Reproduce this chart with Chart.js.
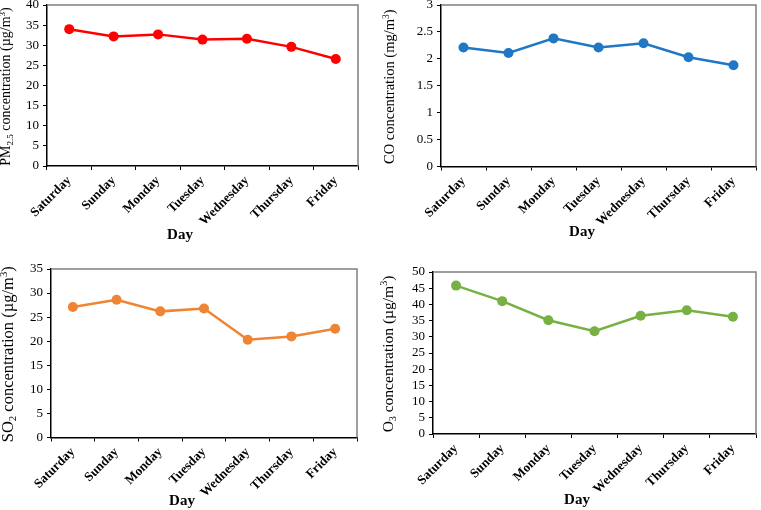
<!DOCTYPE html>
<html>
<head>
<meta charset="utf-8">
<script src="https://cdn.jsdelivr.net/npm/chart.js@4.4.1/dist/chart.umd.min.js"></script>
<style>
  html, body { margin: 0; padding: 0; background: #fff; }
  body { width: 761px; height: 510px; position: relative; overflow: hidden; }
  canvas { position: absolute; }
</style>
</head>
<body>
<canvas id="c1" width="380" height="255" style="left:0px;top:0px;width:380px;height:255px"></canvas>
<canvas id="c2" width="381" height="255" style="left:380px;top:0px;width:381px;height:255px"></canvas>
<canvas id="c3" width="380" height="255" style="left:0px;top:255px;width:380px;height:255px"></canvas>
<canvas id="c4" width="381" height="255" style="left:380px;top:255px;width:381px;height:255px"></canvas>
<script>
// ---------- data ----------
const days = ['Saturday', 'Sunday', 'Monday', 'Tuesday', 'Wednesday', 'Thursday', 'Friday'];
const pm25 = [34.0, 32.2, 32.7, 31.4, 31.6, 29.6, 26.6];
const co   = [2.21, 2.11, 2.38, 2.21, 2.29, 2.03, 1.88];
const so2  = [27.1, 28.6, 26.2, 26.8, 20.3, 21.0, 22.6];
const o3   = [45.8, 41.0, 35.1, 31.7, 36.5, 38.2, 36.2];

const yMax  = [40, 3, 35, 50];
const yStep = [5, 0.5, 5, 5];
const xTitle = 'Day';
// y-axis titles as [text, mode] pieces: n = normal, sub = subscript, sup = superscript
const yTitle1 = [['PM', 'n'], ['2.5', 'sub'], [' concentration (µg/m', 'n'], ['3', 'sup'], [')', 'n']];
const yTitle2 = [['CO concentration (mg/m', 'n'], ['3', 'sup'], [')', 'n']];
const yTitle3 = [['SO', 'n'], ['2', 'sub'], [' concentration (µg/m', 'n'], ['3', 'sup'], [')', 'n']];
const yTitle4 = [['O', 'n'], ['3', 'sub'], [' concentration (µg/m', 'n'], ['3', 'sup'], [')', 'n']];

const seriesColors = ['#ff0000', '#1f77c6', '#ef8434', '#77b043'];

// ---------- layout/style (not data) ----------
const FONT = '"Liberation Serif", "Times New Roman", serif';
const panels = [
  { id: 'c1', values: pm25, yt: yTitle1, ytSize: 14,   ytX: 6,  left: 47, top: 5,  right: 22, xh: 89,  dayX: 180, dayY: 235 },
  { id: 'c2', values: co,   yt: yTitle2, ytSize: 14.5, ytX: 10, left: 61, top: 3,  right: 3,  xh: 88.5, dayX: 202, dayY: 232 },
  { id: 'c3', values: so2,  yt: yTitle3, ytSize: 16.5, ytX: 8,  left: 51, top: 14, right: 23, xh: 72.5, dayX: 182, dayY: 246 },
  { id: 'c4', values: o3,   yt: yTitle4, ytSize: 15.5, ytX: 8,  left: 53, top: 17, right: 1,  xh: 76,  dayX: 197, dayY: 245 }
];

function makePlugin(p) {
  return {
    id: 'decor_' + p.id,
    beforeDatasetsDraw(chart) {
      const a = chart.chartArea, ctx = chart.ctx;
      ctx.save();
      ctx.strokeStyle = '#7f7f7f';
      ctx.lineWidth = 1.5;
      ctx.beginPath();
      ctx.moveTo(a.left, a.top);
      ctx.lineTo(a.right, a.top);
      ctx.lineTo(a.right, a.bottom);
      ctx.stroke();
      ctx.restore();
    },
    afterDraw(chart) {
      const a = chart.chartArea, ctx = chart.ctx;
      // x-axis title
      ctx.save();
      ctx.fillStyle = '#000';
      ctx.font = 'bold 15px ' + FONT;
      ctx.textAlign = 'center';
      ctx.textBaseline = 'middle';
      ctx.fillText(xTitle, p.dayX, p.dayY);
      ctx.restore();
      // y-axis title with sub/superscripts
      const fs = p.ytSize;
      const pieces = p.yt.map(([t, m]) => {
        const size = m === 'n' ? fs : fs * 0.65;
        ctx.font = size + 'px ' + FONT;
        return { t, m, size, w: ctx.measureText(t).width };
      });
      const total = pieces.reduce((s, q) => s + q.w, 0);
      ctx.save();
      ctx.translate(p.ytX + fs * 0.3, (a.top + a.bottom) / 2 + 1);
      ctx.rotate(-Math.PI / 2);
      ctx.fillStyle = '#000';
      ctx.textAlign = 'left';
      ctx.textBaseline = 'alphabetic';
      let x = -total / 2;
      for (const q of pieces) {
        ctx.font = q.size + 'px ' + FONT;
        let dy = 0;
        if (q.m === 'sub') dy = fs * 0.2;
        if (q.m === 'sup') dy = -fs * 0.38;
        ctx.fillText(q.t, x, dy);
        x += q.w;
      }
      ctx.restore();
    }
  };
}

panels.forEach((p, i) => {
  const color = seriesColors[i];
  new Chart(document.getElementById(p.id), {
    type: 'line',
    data: {
      labels: days,
      datasets: [{
        data: p.values,
        borderColor: color,
        backgroundColor: color,
        pointBackgroundColor: color,
        pointBorderColor: color,
        pointBorderWidth: 0,
        pointRadius: 5,
        borderWidth: 2.5,
        tension: 0,
        fill: false
      }]
    },
    options: {
      responsive: false,
      animation: false,
      devicePixelRatio: 1,
      layout: { padding: { left: 0, top: p.top, right: p.right, bottom: 0 } },
      plugins: { legend: { display: false }, tooltip: { enabled: false }, title: { display: false } },
      scales: {
        x: {
          type: 'category',
          offset: true,
          grid: { display: true, drawOnChartArea: false, drawTicks: true, tickLength: 4, color: '#000', offset: true, lineWidth: 1 },
          border: { display: true, color: '#000', width: 1.5 },
          ticks: {
            color: '#000',
            font: { family: FONT, size: 13, weight: 'bold' },
            minRotation: 45, maxRotation: 45,
            padding: 3,
            autoSkip: false
          },
          afterFit(s) { s.height = p.xh; s.paddingLeft = 0; s.paddingRight = 0; s.paddingTop = 0; s.paddingBottom = 0; }
        },
        y: {
          min: 0,
          max: yMax[i],
          grid: { display: true, drawOnChartArea: false, drawTicks: true, tickLength: 4, color: '#000', lineWidth: 1 },
          border: { display: true, color: '#000', width: 1.5 },
          ticks: {
            stepSize: yStep[i],
            autoSkip: false,
            color: '#000',
            font: { family: FONT, size: 13 },
            padding: 4,
            callback: v => String(Number(v))
          },
          afterFit(s) { s.width = p.left; s.paddingTop = 0; s.paddingBottom = 0; s.paddingLeft = 0; s.paddingRight = 0; }
        }
      }
    },
    plugins: [makePlugin(p)]
  });
});
</script>
</body>
</html>
